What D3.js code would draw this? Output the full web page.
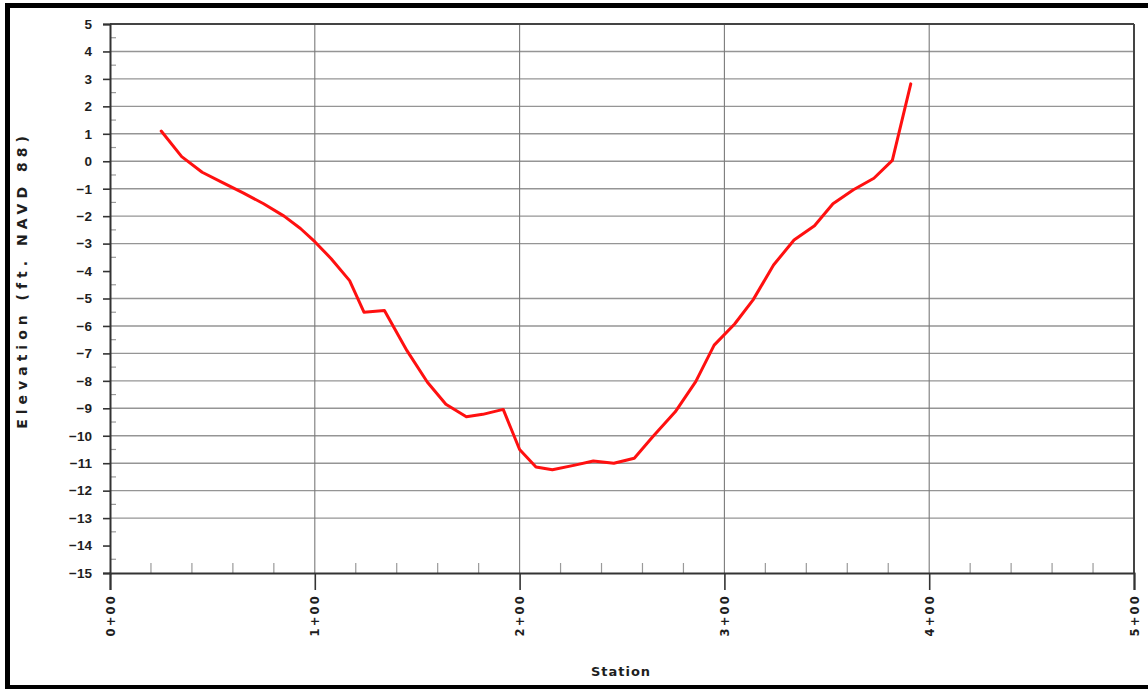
<!DOCTYPE html>
<html>
<head>
<meta charset="utf-8">
<script src="https://cdn.jsdelivr.net/npm/d3@7/dist/d3.min.js"></script>
<style>
  html, body { margin: 0; padding: 0; background: #fff; }
  svg { display: block; }
</style>
</head>
<body>
<svg id="chart" width="1148" height="689"></svg>
<script>
// Channel cross-section survey: station (ft) vs. ground elevation (ft, NAVD 88)
const stations = [25, 35, 45, 55, 65, 75, 85, 93, 100, 108, 117, 124, 134, 145, 155, 164,
  174, 182, 192, 200, 208, 216, 227, 236, 246, 256, 265, 276, 286, 295, 305, 314, 324,
  334, 344, 353, 363, 373, 382, 391];
const elevations = [1.1, 0.17, -0.4, -0.78, -1.15, -1.55, -2.0, -2.45, -2.93, -3.55, -4.35,
  -5.5, -5.44, -6.9, -8.05, -8.85, -9.31, -9.22, -9.04, -10.5, -11.14, -11.24, -11.07,
  -10.92, -11.0, -10.82, -10.04, -9.13, -8.03, -6.7, -5.93, -5.05, -3.78, -2.87, -2.35,
  -1.55, -1.04, -0.62, 0.03, 2.82];

const xTickValues = [0, 100, 200, 300, 400, 500];
const xTickLabels = ["0+00", "1+00", "2+00", "3+00", "4+00", "5+00"];
const yTickValues = d3.range(-15, 6, 1);
const yGridSkipped = [-4, -14];

const svg = d3.select("#chart");
const W = 1148, H = 689;
const plot = { left: 110, right: 1134, top: 24, bottom: 573 };

const x = d3.scaleLinear().domain([0, 500]).range([plot.left, plot.right]);
const y = d3.scaleLinear().domain([-15, 5]).range([plot.bottom, plot.top]);

// outer frame
svg.append("rect").attr("x", 0).attr("y", 0).attr("width", W).attr("height", H).attr("fill", "#fff");
svg.append("rect").attr("x", 5).attr("y", 3).attr("width", 5).attr("height", 686).attr("fill", "#000");
svg.append("rect").attr("x", 5).attr("y", 3).attr("width", 1143).attr("height", 5).attr("fill", "#000");
svg.append("rect").attr("x", 5).attr("y", 685).attr("width", 1143).attr("height", 4).attr("fill", "#000");

// horizontal grid
svg.append("g")
  .selectAll("line")
  .data(yTickValues.filter(v => v > -15 && v < 5 && !yGridSkipped.includes(v)))
  .join("line")
  .attr("x1", plot.left).attr("x2", plot.right)
  .attr("y1", d => y(d)).attr("y2", d => y(d))
  .attr("stroke", "#959595").attr("stroke-width", 1.4);

// vertical grid at full stations
svg.append("g")
  .selectAll("line")
  .data(xTickValues.filter(v => v > 0 && v < 500))
  .join("line")
  .attr("x1", d => x(d)).attr("x2", d => x(d))
  .attr("y1", plot.top).attr("y2", plot.bottom)
  .attr("stroke", "#7a7a7a").attr("stroke-width", 1.1);

// minor ticks inside plot
svg.append("g")
  .selectAll("line")
  .data(d3.range(20, 500, 20).filter(v => v % 100 !== 0))
  .join("line")
  .attr("x1", d => x(d)).attr("x2", d => x(d))
  .attr("y1", plot.bottom).attr("y2", plot.bottom - 10)
  .attr("stroke", "#9a9a9a").attr("stroke-width", 1.2);
svg.append("g")
  .selectAll("line")
  .data(d3.range(-14.5, 5, 1))
  .join("line")
  .attr("x1", plot.left).attr("x2", plot.left + 6)
  .attr("y1", d => y(d)).attr("y2", d => y(d))
  .attr("stroke", "#9a9a9a").attr("stroke-width", 1.2);

// plot border
svg.append("line").attr("x1", plot.left).attr("x2", plot.right).attr("y1", plot.top).attr("y2", plot.top)
  .attr("stroke", "#444").attr("stroke-width", 2);
svg.append("line").attr("x1", plot.right).attr("x2", plot.right).attr("y1", plot.top).attr("y2", plot.bottom)
  .attr("stroke", "#444").attr("stroke-width", 2);

// y axis
const yAxis = d3.axisLeft(y).tickValues(yTickValues).tickSize(7).tickPadding(11)
  .tickFormat(d => d3.format("d")(d).replace("-", "\u2212"));
const gy = svg.append("g").attr("transform", `translate(${plot.left},0)`).call(yAxis);
gy.select(".domain").attr("stroke", "#333").attr("stroke-width", 2);
gy.selectAll(".tick line").attr("stroke", "#333").attr("stroke-width", 1.6);
gy.selectAll(".tick text")
  .attr("fill", "#1e1e1e")
  .style("font-family", "'Liberation Sans Narrow', 'Arial Narrow', 'Liberation Sans', sans-serif")
  .style("font-weight", "bold")
  .style("font-size", "13.5px");

// x axis
const xAxis = d3.axisBottom(x).tickValues(xTickValues).tickSize(17)
  .tickFormat((d, i) => xTickLabels[i]);
const gx = svg.append("g").attr("transform", `translate(0,${plot.bottom})`).call(xAxis);
gx.select(".domain").attr("stroke", "#333").attr("stroke-width", 2);
gx.selectAll(".tick line").attr("stroke", "#333").attr("stroke-width", 1.6);
gx.selectAll(".tick text")
  .attr("fill", "#1e1e1e")
  .attr("transform", "rotate(-90)")
  .attr("text-anchor", "end")
  .attr("x", -21)
  .attr("y", 0)
  .attr("dy", "0.36em")
  .style("font-family", "'DejaVu Sans', sans-serif")
  .style("font-weight", "bold")
  .style("font-size", "11.5px")
  .style("letter-spacing", "2.2px");

// axis titles
svg.append("text")
  .attr("x", 621).attr("y", 676)
  .attr("text-anchor", "middle")
  .attr("fill", "#1e1e1e")
  .style("font-family", "'DejaVu Sans', sans-serif")
  .style("font-size", "13px")
  .style("font-weight", "bold")
  .style("letter-spacing", "1px")
  .text("Station");

svg.append("text")
  .attr("transform", `translate(27,280) rotate(-90)`)
  .attr("text-anchor", "middle")
  .attr("fill", "#1e1e1e")
  .style("font-family", "'DejaVu Sans', sans-serif")
  .style("font-size", "14px")
  .style("font-weight", "bold")
  .style("letter-spacing", "5px")
  .text("Elevation (ft. NAVD 88)");

// profile line
const profile = stations.map((s, i) => [s, elevations[i]]);
svg.append("path")
  .datum(profile)
  .attr("fill", "none")
  .attr("stroke", "#ff1010")
  .attr("stroke-width", 3)
  .attr("stroke-linejoin", "round")
  .attr("stroke-linecap", "round")
  .attr("d", d3.line().x(d => x(d[0])).y(d => y(d[1])));
</script>
</body>
</html>
